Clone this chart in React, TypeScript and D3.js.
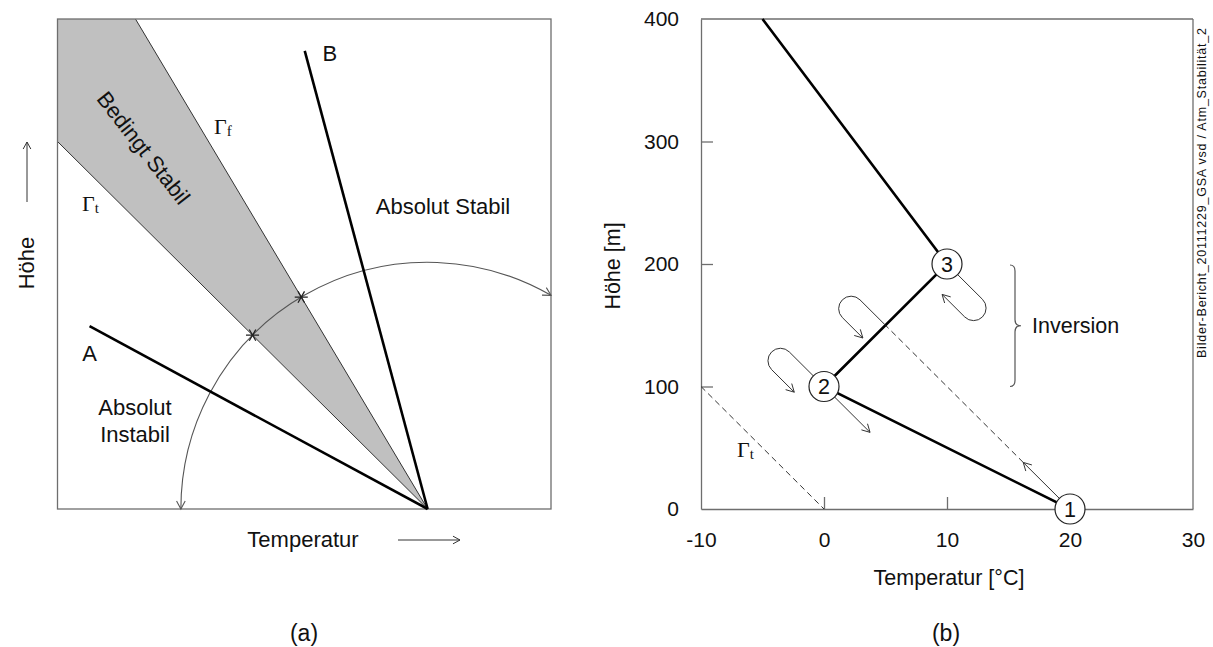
import { useEffect, useRef } from 'react';
import * as d3 from 'd3';

// ---- panel (a): schematic, arbitrary units (0..100 on both axes) ----
const ORIGIN_A: [number, number] = [75, 0];
const GAMMA_T_END: [number, number] = [0, 75];
const GAMMA_F_END: [number, number] = [15.8, 100];
const LINE_A_END: [number, number] = [6.5, 37.3];
const LINE_B_END: [number, number] = [50.1, 93.5];
const ARC_LEFT_X = 25; // arc crosses the baseline here

// ---- panel (b): temperature profile ----
const PROFILE_TEMP = [20, 0, 10, -5];
const PROFILE_HEIGHT = [0, 100, 200, 400];
const STATION_LABELS = ['1', '2', '3'];
const X_TICKS = [-10, 0, 10, 20, 30];
const Y_TICKS = [0, 100, 200, 300, 400];
const GAMMA_T_TEMP = [-10, 0];
const GAMMA_T_HEIGHT = [100, 0];
const PARCEL_TEMP = [20, 5];
const PARCEL_HEIGHT = [0, 150];
const INVERSION_RANGE = [100, 200];

const SANS = '"Liberation Sans", Arial, sans-serif';
const SERIF = '"Liberation Serif", "Times New Roman", serif';
const FRAME = '#6e6e6e';
const LINE = '#333';

const xA = d3.scaleLinear().domain([0, 100]).range([57.5, 551]);
const yA = d3.scaleLinear().domain([0, 100]).range([509, 19]);
const xB = d3.scaleLinear().domain([-10, 30]).range([701, 1193]);
const yB = d3.scaleLinear().domain([0, 400]).range([509, 19]);

type P = [number, number];
const pa = (p: P): P => [xA(p[0]), yA(p[1])];
const unit = (v: P): P => {
  const l = Math.hypot(v[0], v[1]);
  return [v[0] / l, v[1] / l];
};
const add = (a: P, b: P, k = 1): P => [a[0] + b[0] * k, a[1] + b[1] * k];

function arrowHead(tip: P, dir: P, len = 9, ang = 0.5) {
  const u = unit(dir);
  const rot = (a: number): P => [
    u[0] * Math.cos(a) - u[1] * Math.sin(a),
    u[0] * Math.sin(a) + u[1] * Math.cos(a),
  ];
  const l = add(tip, rot(ang), -len);
  const r = add(tip, rot(-ang), -len);
  return `M${l[0]},${l[1]}L${tip[0]},${tip[1]}L${r[0]},${r[1]}`;
}

// hairpin: leg out along d, half turn to side p, leg back with arrow
function hairpin(start: P, d: P, p: P, l1: number, r: number, l2: number) {
  const du = unit(d);
  const pu = unit(p);
  const e1 = add(start, du, l1);
  const e2 = add(e1, pu, 2 * r);
  const tip = add(e2, du, -l2);
  const cross = -pu[0] * du[1] + pu[1] * du[0];
  const sweep = cross > 0 ? 1 : 0;
  const path = `M${start[0]},${start[1]}L${e1[0]},${e1[1]}A${r},${r} 0 0 ${sweep} ${e2[0]},${e2[1]}L${tip[0]},${tip[1]}`;
  return path + arrowHead(tip, [-du[0], -du[1]]);
}

function Axes() {
  const xRef = useRef<SVGGElement>(null);
  const yRef = useRef<SVGGElement>(null);
  useEffect(() => {
    const gx = d3.select(xRef.current!);
    gx.call(
      d3.axisBottom(xB).tickValues(X_TICKS).tickFormat((d) => String(d))
        .tickSizeInner(-12).tickSizeOuter(0).tickPadding(23)
    );
    const gy = d3.select(yRef.current!);
    gy.call(
      d3.axisLeft(yB).tickValues(Y_TICKS).tickFormat((d) => String(d))
        .tickSizeInner(-12).tickSizeOuter(0).tickPadding(22)
    );
    for (const g of [gx, gy]) {
      g.select('.domain').attr('stroke', FRAME).attr('stroke-width', 1.3);
      g.selectAll('.tick line').attr('stroke', FRAME).attr('stroke-width', 1.3);
      g.selectAll('.tick text').attr('font-size', 21).attr('font-family', SANS).attr('fill', '#111');
    }
    gx.selectAll('.tick line').filter((d: any) => d === -10 || d === 30).remove();
    gy.selectAll('.tick line').filter((d: any) => d === 0 || d === 400).remove();
  }, []);
  return (
    <>
      <g ref={xRef} transform={`translate(0,${yB(0)})`} />
      <g ref={yRef} transform={`translate(${xB(-10)},0)`} />
    </>
  );
}

function PanelA() {
  const O = pa(ORIGIN_A);
  const gt = pa(GAMMA_T_END);
  const gf = pa(GAMMA_F_END);
  const R = O[0] - xA(ARC_LEFT_X);
  const path = d3.path();
  path.arc(O[0], O[1], R, Math.PI, (5 * Math.PI) / 3, false);
  const arcStart: P = [O[0] - R, O[1]];
  const endAng = (5 * Math.PI) / 3;
  const arcEnd: P = [O[0] + R * Math.cos(endAng), O[1] + R * Math.sin(endAng)];
  const stars = [gt, gf].map((e) => add(O, unit([e[0] - O[0], e[1] - O[1]]), R));
  const star = d3.symbol().type(d3.symbolAsterisk).size(120)()!;
  const band = [O, gt, pa([0, 100]), gf];
  const la = pa(LINE_A_END);
  const lb = pa(LINE_B_END);

  return (
    <g fontFamily={SANS} fontSize={22} fill="#111">
      <polygon points={band.map((p) => p.join(',')).join(' ')} fill="#c0c0c0" />
      <line x1={O[0]} y1={O[1]} x2={gt[0]} y2={gt[1]} stroke={LINE} strokeWidth={1} />
      <line x1={O[0]} y1={O[1]} x2={gf[0]} y2={gf[1]} stroke={LINE} strokeWidth={1} />
      <rect x={xA(0)} y={yA(100)} width={xA(100) - xA(0)} height={yA(0) - yA(100)} fill="none" stroke={FRAME} strokeWidth={1.3} />
      <path d={path.toString()} fill="none" stroke="#555" strokeWidth={1.1} />
      <path d={arrowHead(arcStart, [0, 1])} fill="none" stroke="#555" strokeWidth={1.1} />
      <path d={arrowHead(arcEnd, [-Math.sin(endAng), Math.cos(endAng)])} fill="none" stroke="#555" strokeWidth={1.1} />
      {stars.map((s, i) => (
        <path key={i} d={star} transform={`translate(${s[0]},${s[1]}) rotate(90)`} fill="none" stroke="#222" strokeWidth={1.3} />
      ))}
      <line x1={O[0]} y1={O[1]} x2={la[0]} y2={la[1]} stroke="#000" strokeWidth={2.6} />
      <line x1={O[0]} y1={O[1]} x2={lb[0]} y2={lb[1]} stroke="#000" strokeWidth={2.6} />

      <text x={lb[0] + 25} y={61} textAnchor="middle">B</text>
      <text x={la[0]} y={361} textAnchor="middle">A</text>
      <text x={443} y={214} textAnchor="middle">Absolut Stabil</text>
      <text x={135} y={415} textAnchor="middle">Absolut</text>
      <text x={135} y={442} textAnchor="middle">Instabil</text>
      <text transform="translate(142,149) rotate(52)" textAnchor="middle" dominantBaseline="middle">Bedingt Stabil</text>
      <text x={214} y={134} fontFamily={SERIF} fontSize={22}>Γ<tspan fontSize={15} dy={2}>f</tspan></text>
      <text x={82} y={211} fontFamily={SERIF} fontSize={22}>Γ<tspan fontSize={15} dy={2}>t</tspan></text>

      <text x={303} y={547} textAnchor="middle">Temperatur</text>
      <line x1={398} y1={540} x2={460} y2={540} stroke="#333" strokeWidth={1} />
      <path d={arrowHead([460, 540], [1, 0], 8, 0.5)} fill="none" stroke="#333" strokeWidth={1} />
      <text transform="translate(34,263) rotate(-90)" textAnchor="middle">Höhe</text>
      <line x1={27} y1={202} x2={27} y2={142} stroke="#333" strokeWidth={1} />
      <path d={arrowHead([27, 142], [0, -1], 8, 0.5)} fill="none" stroke="#333" strokeWidth={1} />
      <text x={304} y={641} textAnchor="middle" fontSize={23}>(a)</text>
    </g>
  );
}

function PanelB() {
  const pts: P[] = PROFILE_TEMP.map((t, i) => [xB(t), yB(PROFILE_HEIGHT[i])]);
  const line = d3.line<P>()(pts)!;
  const stations = pts.slice(0, 3);
  const CR = 15;
  const gt0: P = [xB(GAMMA_T_TEMP[0]), yB(GAMMA_T_HEIGHT[0])];
  const gt1: P = [xB(GAMMA_T_TEMP[1]), yB(GAMMA_T_HEIGHT[1])];
  const p0: P = [xB(PARCEL_TEMP[0]), yB(PARCEL_HEIGHT[0])];
  const p1: P = [xB(PARCEL_TEMP[1]), yB(PARCEL_HEIGHT[1])];
  const up = unit([p1[0] - p0[0], p1[1] - p0[1]]);
  const dn: P = [-up[0], -up[1]];
  const side: P = [-1, 1];

  const a1s = add(stations[0], up, CR);
  const a1t = add(stations[0], up, CR + 51);
  const a2s = add(stations[1], dn, CR);
  const a2t = add(stations[1], dn, CR + 50);

  const bx = 1010;
  const bTop = yB(INVERSION_RANGE[1]) + 1;
  const bBot = yB(INVERSION_RANGE[0]);
  const bMid = (bTop + bBot) / 2;
  const brace = `M${bx},${bTop} Q${bx + 5},${bTop} ${bx + 5},${bTop + 6} L${bx + 5},${bMid - 6} Q${bx + 5},${bMid} ${bx + 11},${bMid} Q${bx + 5},${bMid} ${bx + 5},${bMid + 6} L${bx + 5},${bBot - 6} Q${bx + 5},${bBot} ${bx},${bBot}`;

  return (
    <g fontFamily={SANS} fontSize={21.5} fill="#111">
      <line x1={xB(-10)} y1={yB(400)} x2={xB(30)} y2={yB(400)} stroke={FRAME} strokeWidth={1.3} />
      <line x1={xB(30)} y1={yB(400)} x2={xB(30)} y2={yB(0)} stroke={FRAME} strokeWidth={1.3} />
      <Axes />
      <line x1={gt0[0]} y1={gt0[1]} x2={gt1[0]} y2={gt1[1]} stroke={LINE} strokeWidth={1} strokeDasharray="6,4" />
      <line x1={a1t[0]} y1={a1t[1]} x2={p1[0]} y2={p1[1]} stroke={LINE} strokeWidth={1} strokeDasharray="6,4" />
      <path d={line} fill="none" stroke="#000" strokeWidth={2.6} />

      <path d={`M${a1s[0]},${a1s[1]}L${a1t[0]},${a1t[1]}` + arrowHead(a1t, up)} fill="none" stroke={LINE} strokeWidth={1} />
      <path d={`M${a2s[0]},${a2s[1]}L${a2t[0]},${a2t[1]}` + arrowHead(a2t, dn)} fill="none" stroke={LINE} strokeWidth={1} />
      <path d={hairpin(add(stations[2], dn, CR), dn, side, 35, 12.5, 32)} fill="none" stroke={LINE} strokeWidth={1} />
      <path d={hairpin(add(stations[1], up, CR), up, side, 34, 12.5, 32)} fill="none" stroke={LINE} strokeWidth={1} />
      <path d={hairpin(p1, up, side, 36, 12.5, 29)} fill="none" stroke={LINE} strokeWidth={1} />

      {stations.map((s, i) => (
        <g key={i}>
          <circle cx={s[0]} cy={s[1]} r={CR} fill="#fff" stroke="#222" strokeWidth={1.2} />
          <text x={s[0]} y={s[1] + 7.5} textAnchor="middle">{STATION_LABELS[i]}</text>
        </g>
      ))}

      <path d={brace} fill="none" stroke="#555" strokeWidth={1.2} />
      <text x={1032} y={333}>Inversion</text>
      <text x={737} y={457} fontFamily={SERIF} fontSize={22}>Γ<tspan fontSize={15} dy={2}>t</tspan></text>

      <text x={949} y={585} textAnchor="middle">Temperatur [°C]</text>
      <text transform="translate(620,266) rotate(-90)" textAnchor="middle">Höhe [m]</text>
      <text x={946} y={641} textAnchor="middle" fontSize={23}>(b)</text>
      <text transform="translate(1206,358) rotate(-90)" fontSize={12.5} textLength={330} lengthAdjust="spacing">Bilder-Bericht_20111229_GSA vsd / Atm_Stabilität_2</text>
    </g>
  );
}

export default function App() {
  return (
    <div style={{ position: 'absolute', left: 0, top: 0 }}>
      <svg width={1213} height={647} style={{ display: 'block', background: '#fff' }}>
        <PanelA />
        <PanelB />
      </svg>
    </div>
  );
}
